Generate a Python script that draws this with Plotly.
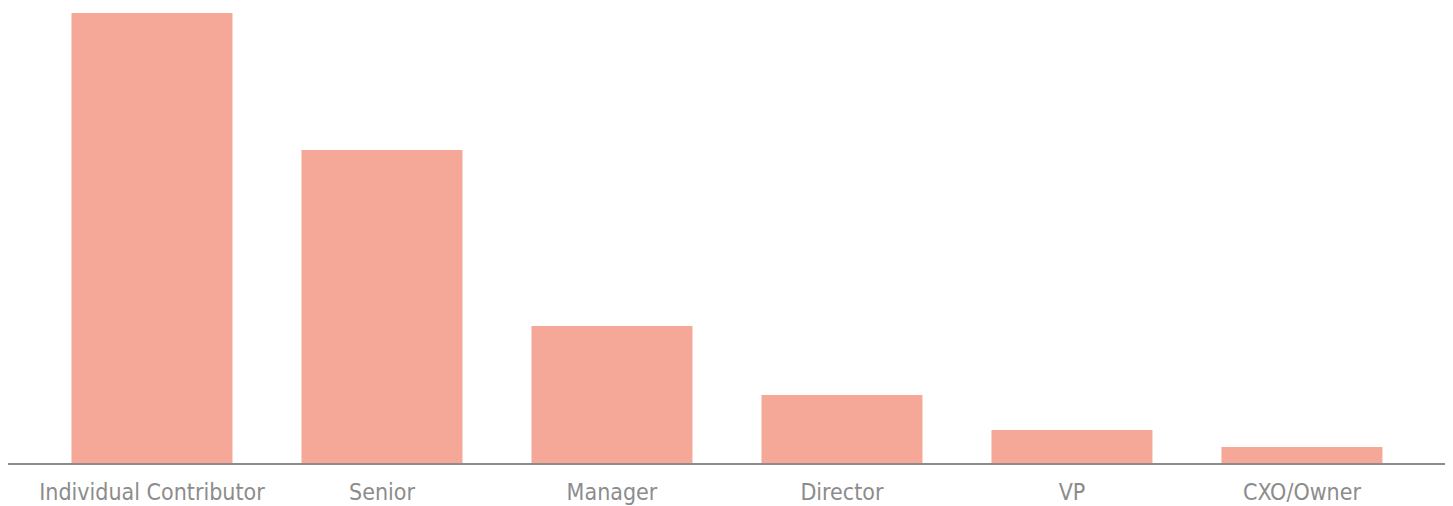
import plotly.graph_objects as go

categories = ["Individual Contributor", "Senior", "Manager", "Director", "VP", "CXO/Owner"]
values = [45.0, 31.3, 13.7, 6.8, 3.3, 1.6]

FONT = "DejaVu Sans Condensed, sans-serif"

fig = go.Figure(go.Bar(x=categories, y=values, marker=dict(color="#f6a898", line=dict(width=0))))
fig.update_layout(
    width=1445, height=498,
    margin=dict(l=0, r=5, t=5, b=43),
    paper_bgcolor="white", plot_bgcolor="white",
    bargap=0.3,
    showlegend=False,
    font=dict(family=FONT, color="#8c8c8c", size=23),
)
fig.update_xaxes(range=[-0.626, 5.635], showline=True, linecolor="#8c8c8c", linewidth=2,
                 ticks="", showgrid=False, automargin=False, ticklabelstandoff=7,
                 tickfont=dict(family=FONT, size=23, color="#8c8c8c"))
fig.update_yaxes(range=[0, 45], visible=False, showgrid=False, zeroline=False, automargin=False)
fig.write_html("out.html")
